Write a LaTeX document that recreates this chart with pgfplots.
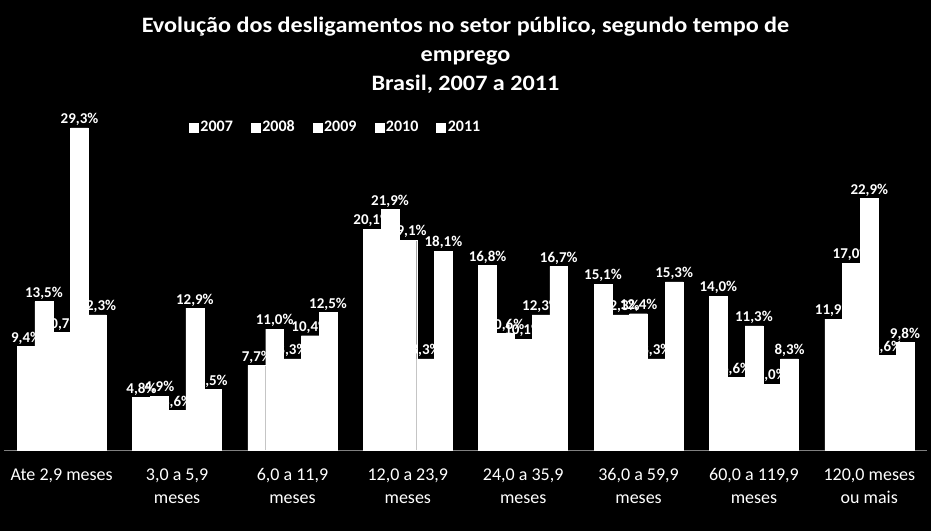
\documentclass[border=0pt]{standalone}
\usepackage{pgfplots}
\pgfplotsset{compat=1.18}
\usepackage{fontspec}
\setmainfont{Carlito}
\begin{document}
\begin{tikzpicture}[x=1pt,y=1pt]
\fill[black] (0,0) rectangle (931,531);
\node[text=white,font=\fontsize{22}{29}\selectfont\bfseries,align=center,xscale=1.1] at (465.5,476) {Evolução dos desligamentos no setor público, segundo tempo de\\ emprego\\ Brasil, 2007 a 2011};
\begin{axis}[
  at={(4pt,81pt)}, anchor=south west, scale only axis,
  width=923pt, height=329.7pt,
  ymin=0, ymax=30, xmin=-0.5, xmax=7.5,
  ybar=0pt, bar width=17.8pt, clip=false,
  axis x line=bottom, axis y line=none,
  x axis line style={gray,-, line width=1pt},
  xtick={0,...,7}, major tick length=0pt,
  xticklabels={Ate 2{,}9 meses, {3{,}0 a 5{,}9\\meses}, {6{,}0 a 11{,}9\\meses}, {12{,}0 a 23{,}9\\meses}, {24{,}0 a 35{,}9\\meses}, {36{,}0 a 59{,}9\\meses}, {60{,}0 a 119{,}9\\meses}, {120{,}0 meses\\ou mais}},
  x tick label style={text=white, font=\fontsize{18}{23}\selectfont, align=center, yshift=-15pt},
  /pgf/number format/assume math mode=true,
  nodes near coords={\pgfmathprintnumber[fixed,fixed zerofill,precision=1,use comma,assume math mode=true]{\pgfplotspointmeta}\%},
  every node near coord/.append style={text=white, font=\fontsize{15}{17}\selectfont\bfseries, inner sep=2pt},
  legend style={at={(0.197,0.979)}, anchor=west, draw=none, fill=none, text=white, font=\fontsize{16}{18}\selectfont\bfseries},
  legend columns=5,
  legend image code/.code={\fill[white] (0pt,-4.5pt) rectangle (9pt,4.5pt);},
  /tikz/every even column/.append style={column sep=16pt},
]
\addplot[fill=white,draw=white,line width=0.4pt] coordinates {(0,9.4) (1,4.8) (2,7.7) (3,20.1) (4,16.8) (5,15.1) (6,14.0) (7,11.9)};
\addplot[fill=white,draw=white,line width=0.4pt] coordinates {(0,13.5) (1,4.9) (2,11.0) (3,21.9) (4,10.6) (5,12.3) (6,6.6) (7,17.0)};
\addplot[fill=white,draw=white,line width=0.4pt] coordinates {(0,10.7) (1,3.6) (2,8.3) (3,19.1) (4,10.1) (5,12.4) (6,11.3) (7,22.9)};
\addplot[fill=white,draw=white,line width=0.4pt] coordinates {(0,29.3) (1,12.9) (2,10.4) (3,8.3) (4,12.3) (5,8.3) (6,6.0) (7,8.6)};
\addplot[fill=white,draw=white,line width=0.4pt] coordinates {(0,12.3) (1,5.5) (2,12.5) (3,18.1) (4,16.7) (5,15.3) (6,8.3) (7,9.8)};
\legend{2007,2008,2009,2010,2011}
\end{axis}
\end{tikzpicture}
\end{document}
